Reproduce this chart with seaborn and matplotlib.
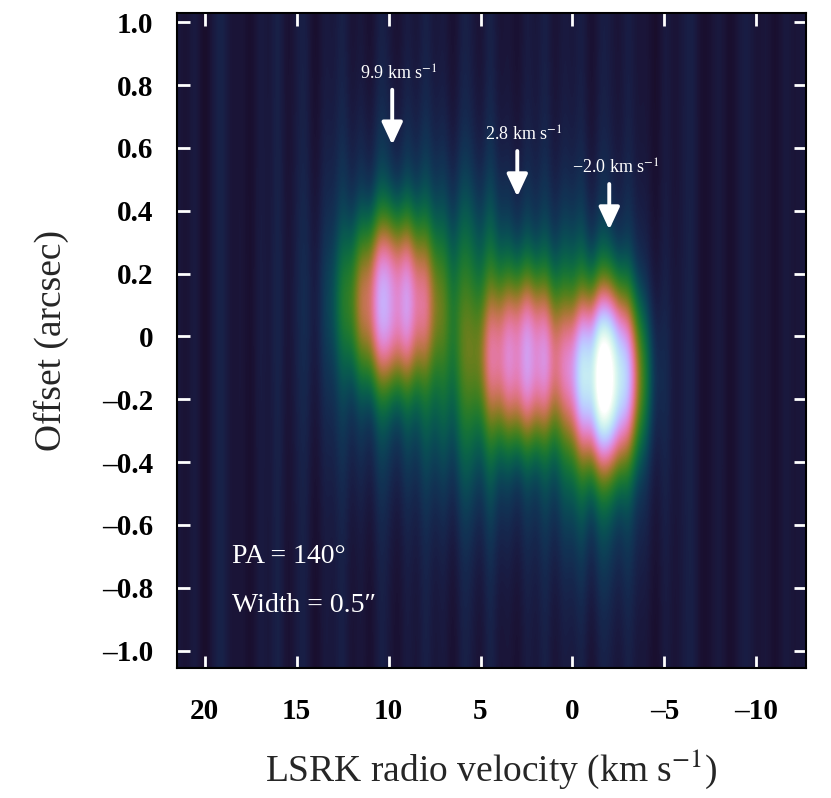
import numpy as np
import matplotlib
matplotlib.use("Agg")
import matplotlib.pyplot as plt
from matplotlib.ticker import FuncFormatter
import seaborn as sns

# ---------------- data ----------------
# channel centres (km/s) of the position-velocity cut
vel_channels = np.arange(21.5, -12.51, -0.5)
# offset samples along the cut (arcsec)
offsets = np.linspace(1.03, -1.055, 140)

# per-channel noise pattern, 21.5 .. -12.5 km/s
channel_noise = [
    0.2, -0.4, 0.5, -0.8, 0.3, 0.6, -0.3, 0.1,
    -0.6, 0.4, -0.2, 0.7, -0.5, 0.2, 0.5, -0.7,
    0.3, -0.1, 0.6, -0.4, 0.2, -0.6, 0.5, 0.1,
    -0.5, 0.4, -0.3, 0.6, -0.2, 0.3, -0.6, 0.5,
    0.2, -0.4, 0.7, -0.3, 0.1, -0.5, 0.4, -0.2,
    0.6, -0.4, 0.3, -0.1, 0.5, -0.6, 0.4, 0.2,
    -0.3, 0.5, -0.2, 0.1, -0.7, 0.4, -0.3, 0.2,
    0.5, -0.5, -0.2, 0.3, -0.6, 0.1, 0.4, -0.3,
    0.2, -0.6, 0.3, -0.2, 0.1,
]

# emission components: centre velocity, centre offset, widths, amplitude, profile exponent
comp_vel = [9.8, 10.0, 2.6, 3.5, -1.8, -1.7, 6.0, 0.3]
comp_off = [0.11, 0.09, -0.07, -0.06, -0.13, -0.18, 0.0, -0.1]
comp_sig_vel = [1.75, 2.3, 1.7, 2.4, 1.35, 1.6, 1.6, 0.8]
comp_sig_off = [0.2, 0.33, 0.2, 0.33, 0.21, 0.35, 0.32, 0.3]
comp_amp = [0.42, 0.18, 0.40, 0.18, 0.70, 0.20, 0.10, 0.08]
comp_power = [2.6, 2.0, 2.6, 2.0, 2.5, 2.0, 2.0, 2.0]
background_level = 0.11

# annotations
arrow_vel = [9.8, 3.0, -2.0]
arrow_labels = ["9.9 km s$^{-1}$", "2.8 km s$^{-1}$", "\u22122.0 km s$^{-1}$"]
arrow_top = [0.785, 0.59, 0.485]
arrow_tip = [0.61, 0.445, 0.34]

x_ticks = [20, 15, 10, 5, 0, -5, -10]
y_ticks = [1.0, 0.8, 0.6, 0.4, 0.2, 0.0, -0.2, -0.4, -0.6, -0.8, -1.0]

# ---------------- model image ----------------
V, Y = np.meshgrid(vel_channels, offsets)
emission = np.zeros_like(V)
for v0, y0, sv, sy, a, p in zip(comp_vel, comp_off, comp_sig_vel, comp_sig_off,
                                 comp_amp, comp_power):
    r = np.sqrt(((V - v0) / sv) ** 2 + ((Y - y0) / sy) ** 2)
    emission += a * np.exp(-0.5 * r ** p)
noise = np.asarray(channel_noise)[None, :]
image = background_level * (1 + 0.6 * noise) + emission * (1 + 0.18 * noise)

# ---------------- plot ----------------
sns.set_theme(style="ticks")
plt.rcParams["font.family"] = ["Liberation Serif", "DejaVu Serif"]
plt.rcParams["mathtext.fontset"] = "stix"

cmap = sns.cubehelix_palette(start=0.5, rot=-1.5, hue=1.3, gamma=1.0,
                             light=1.0, dark=0.0, reverse=True, as_cmap=True)

fig = plt.figure(figsize=(8.31, 7.98), dpi=100)
ax = fig.add_axes([0.213, 0.163, 0.757, 0.821])
dv = 0.25
ax.imshow(image, cmap=cmap, vmin=0, vmax=1, aspect="auto", interpolation="bicubic",
          extent=(vel_channels[0] + dv, vel_channels[-1] - dv, offsets[-1], offsets[0]),
          origin="upper")
ax.set_xlim(21.5, -12.7)
ax.set_ylim(-1.055, 1.03)

ax.set_xticks(x_ticks)
ax.set_yticks(y_ticks)

def fmt_x(x, pos):
    return f"{x:.0f}".replace("-", "\u2013")

def fmt_y(y, pos):
    if abs(y) < 1e-9:
        return "0"
    return f"{y:.1f}".replace("-", "\u2013")

ax.xaxis.set_major_formatter(FuncFormatter(fmt_x))
ax.yaxis.set_major_formatter(FuncFormatter(fmt_y))
ax.tick_params(which="both", direction="in", color="white", length=9, width=2,
               top=True, right=True, labelcolor="black", labelsize=21)
ax.tick_params(axis="x", pad=22)
ax.tick_params(axis="y", pad=17)
for lab in ax.get_xticklabels() + ax.get_yticklabels():
    lab.set_fontweight("bold")
for sp in ax.spines.values():
    sp.set_color("black")
    sp.set_linewidth(1.5)

ax.set_xlabel("LSRK radio velocity (km s$^{-1}$)", fontsize=27, labelpad=16)
ax.set_ylabel("Offset (arcsec)", fontsize=27, labelpad=24)

for v, lab, top, tip in zip(arrow_vel, arrow_labels, arrow_top, arrow_tip):
    ax.annotate("", xy=(v, tip), xytext=(v, top),
                arrowprops=dict(arrowstyle="-|>,head_width=0.42,head_length=0.9",
                                color="white", lw=2.8, mutation_scale=15,
                                shrinkA=0, shrinkB=0))
    ax.text(v - 0.35, top + 0.02, lab, color="white", fontsize=13,
            ha="center", va="bottom")

ax.text(18.5, -0.70, "PA = 140\u00b0", color="white", fontsize=20, ha="left", va="center")
ax.text(18.5, -0.855, "Width = 0.5\u2033", color="white", fontsize=20, ha="left", va="center")

fig.savefig("out.png", dpi=100)
